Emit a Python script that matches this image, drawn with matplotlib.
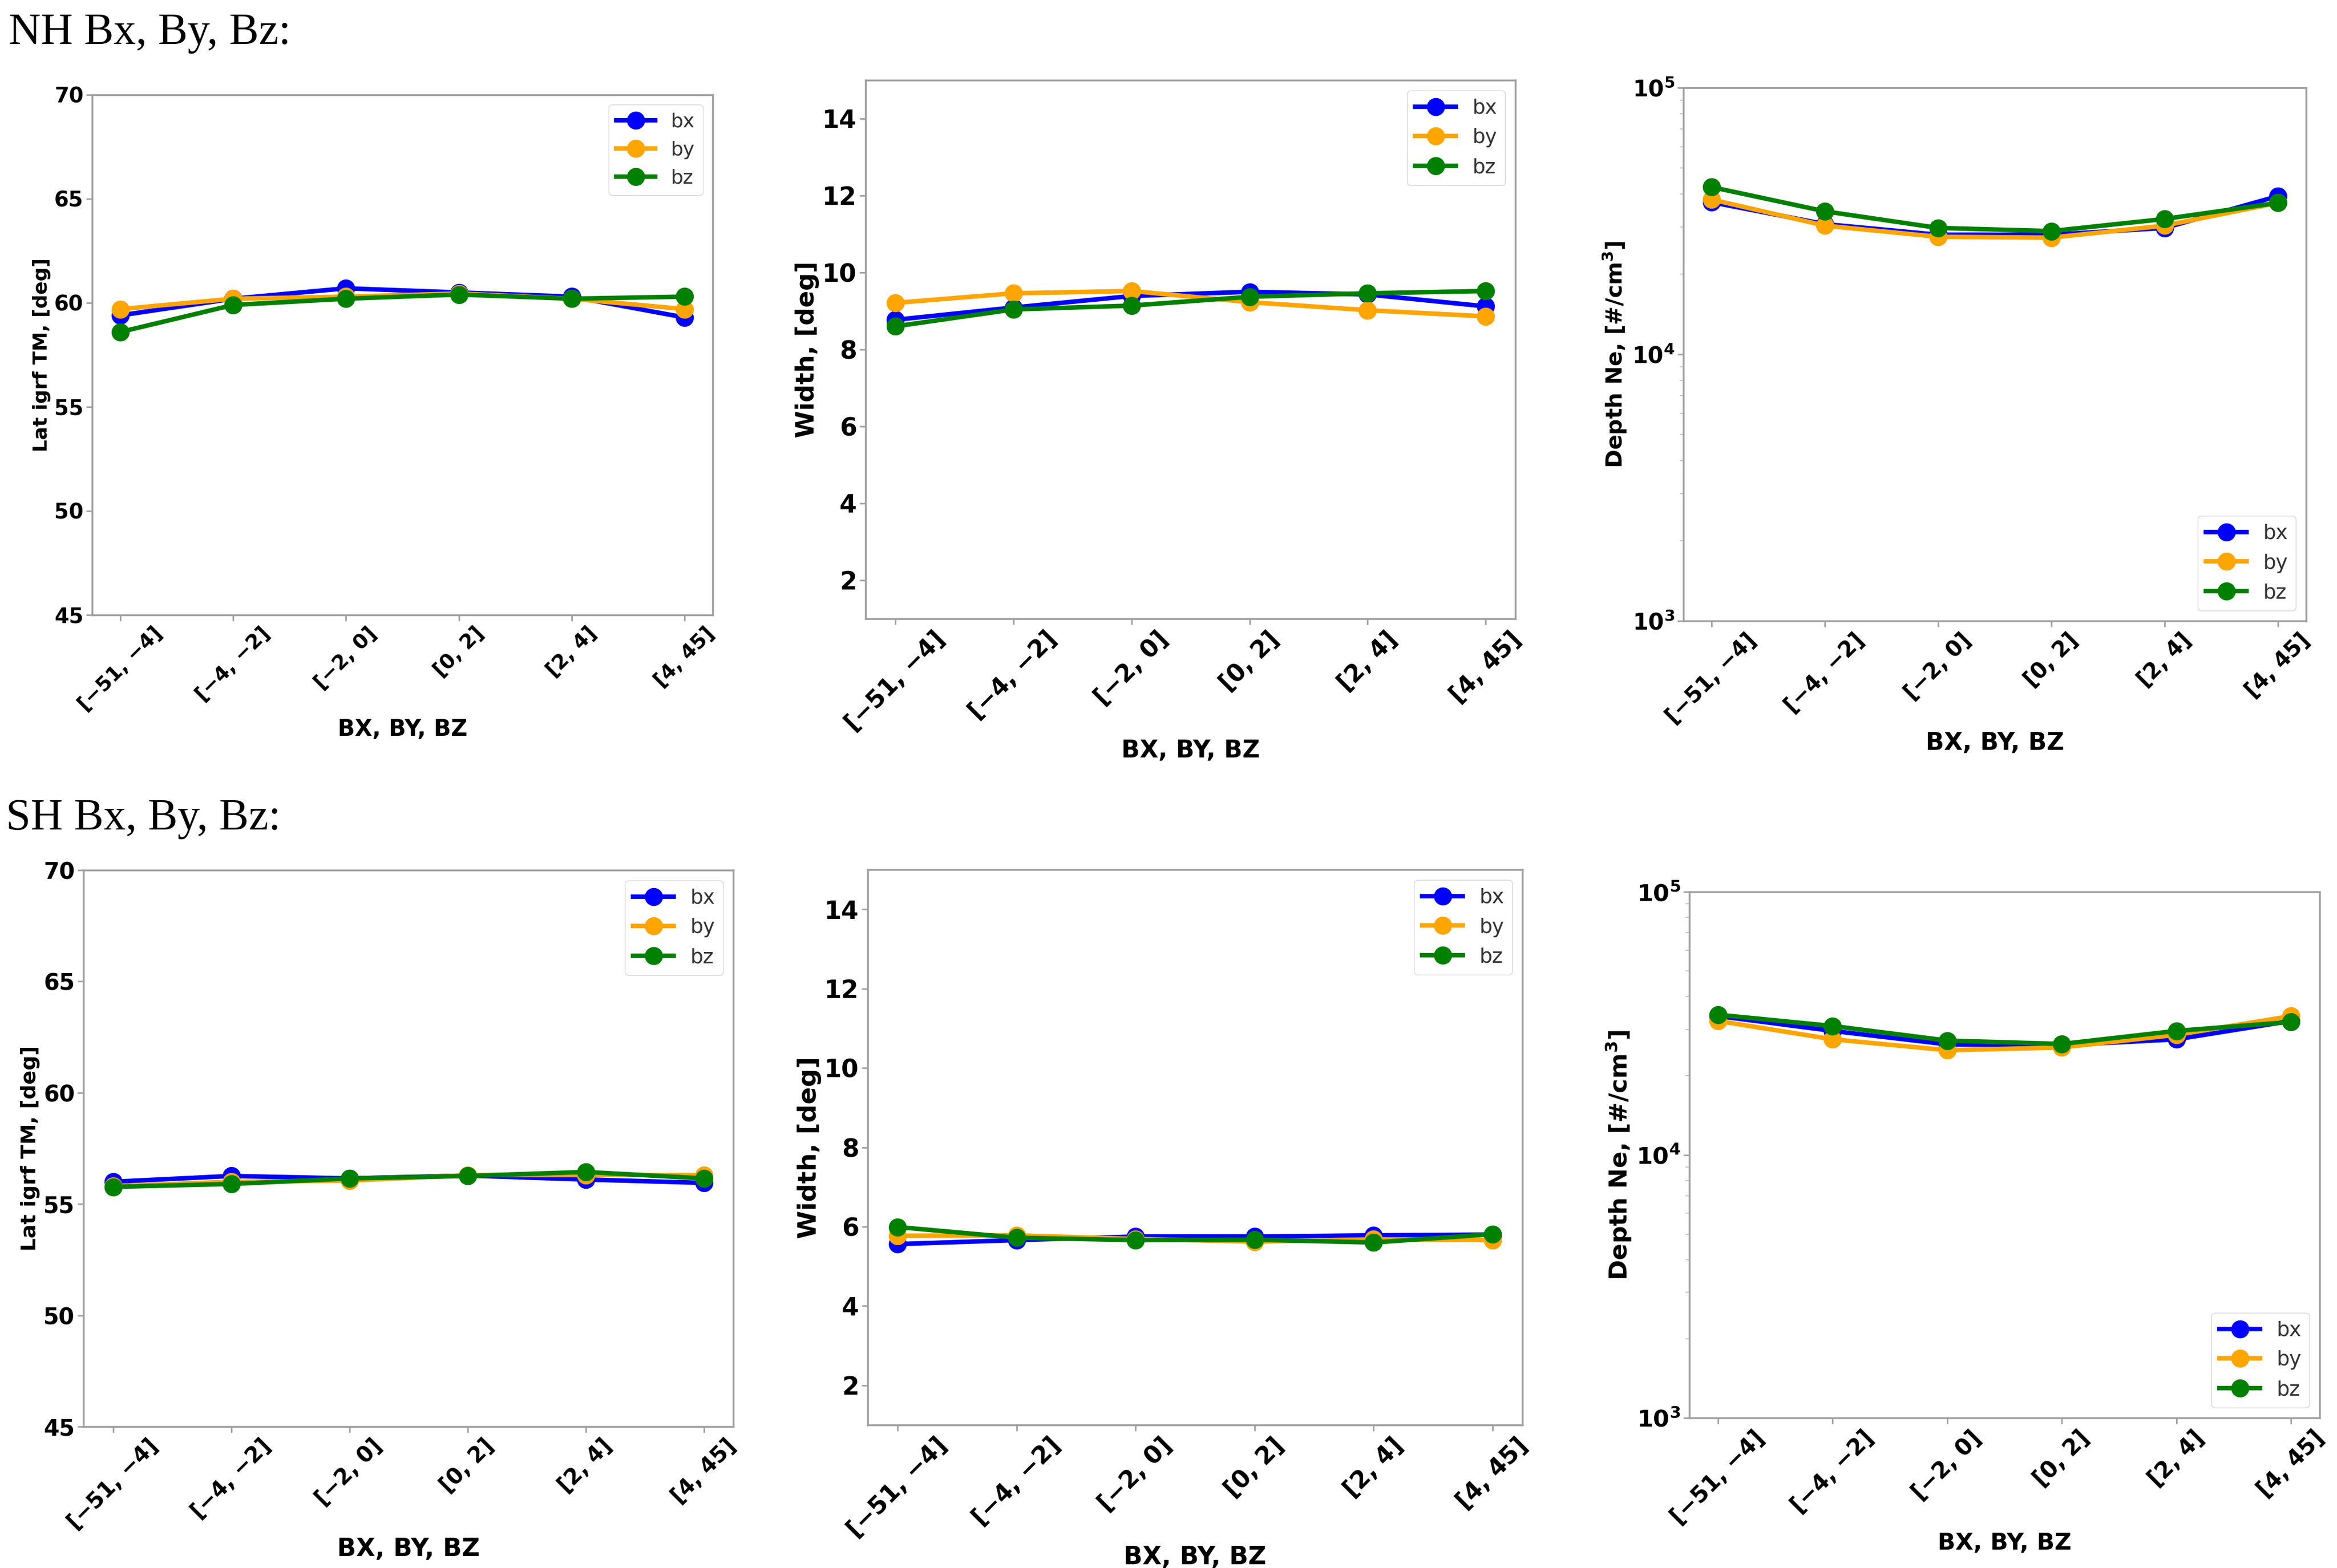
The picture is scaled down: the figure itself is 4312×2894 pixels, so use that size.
import matplotlib
matplotlib.use("Agg")
import matplotlib.pyplot as plt

# intervaly na ose x
intervaly = ["[\u221251, \u22124]", "[\u22124, \u22122]", "[\u22122, 0]", "[0, 2]", "[2, 4]", "[4, 45]"]

# NH - severni polokoule
nh_lat_bx = [59.4, 60.2, 60.7, 60.5, 60.3, 59.3]
nh_lat_by = [59.7, 60.2, 60.3, 60.45, 60.2, 59.7]
nh_lat_bz = [58.6, 59.9, 60.2, 60.4, 60.2, 60.3]

nh_width_bx = [8.77, 9.09, 9.39, 9.5, 9.43, 9.12]
nh_width_by = [9.21, 9.46, 9.52, 9.23, 9.02, 8.86]
nh_width_bz = [8.6, 9.04, 9.14, 9.37, 9.46, 9.52]

nh_depth_bx = [37200, 30800, 28100, 28100, 29800, 39200]
nh_depth_by = [38100, 30400, 27600, 27400, 30400, 37000]
nh_depth_bz = [42400, 34400, 29800, 29000, 32200, 37000]

# SH - jizni polokoule
sh_lat_bx = [56.0, 56.26, 56.15, 56.28, 56.1, 55.95]
sh_lat_by = [55.8, 56.0, 56.05, 56.3, 56.3, 56.3]
sh_lat_bz = [55.77, 55.9, 56.15, 56.26, 56.44, 56.15]

sh_width_bx = [5.56, 5.66, 5.75, 5.75, 5.78, 5.8]
sh_width_by = [5.77, 5.78, 5.69, 5.62, 5.68, 5.66]
sh_width_bz = [5.99, 5.72, 5.66, 5.67, 5.6, 5.81]

sh_depth_bx = [33700, 29600, 26300, 26100, 27500, 32300]
sh_depth_by = [32300, 27500, 25000, 25600, 28600, 33700]
sh_depth_bz = [34100, 30900, 27200, 26400, 29600, 32000]

W, H = 4312, 2894
fig = plt.figure(figsize=(W / 100, H / 100), dpi=100)


def pozice(x0, y0, x1, y1):
    # pixely -> souradnice figury
    return [x0 / W, 1 - y1 / H, (x1 - x0) / W, (y1 - y0) / H]


def panel(rect, bx, by, bz, ylabel, typ, loc, fs_tick, fs_ylab, fs_xlab, fs_leg):
    ax = fig.add_axes(pozice(*rect))
    x = list(range(len(intervaly)))
    for data, barva, jmeno in [(bx, "blue", "bx"), (by, "orange", "by"), (bz, "green", "bz")]:
        ax.plot(x, data, color=barva, marker="o", markersize=23, linewidth=6, label=jmeno)

    if typ == "lat":
        ax.set_ylim(45, 70)
        ax.set_yticks([45, 50, 55, 60, 65, 70])
    elif typ == "width":
        ax.set_ylim(1, 15)
        ax.set_yticks([2, 4, 6, 8, 10, 12, 14])
    else:
        ax.set_yscale("log")
        ax.set_ylim(1e3, 1e5)
        ax.set_yticks([1e3, 1e4, 1e5])
        ax.set_yticklabels([r"$\mathbf{10^{3}}$", r"$\mathbf{10^{4}}$", r"$\mathbf{10^{5}}$"])

    ax.set_xticks(x)
    ax.set_xticklabels(intervaly, rotation=45, fontweight="bold", fontsize=fs_tick - 1)
    for t in ax.get_yticklabels():
        t.set_fontweight("bold")
        t.set_fontsize(fs_tick)
    ax.set_xlabel("BX, BY, BZ", fontweight="bold", fontsize=fs_xlab)
    ax.set_ylabel(ylabel, fontweight="bold", fontsize=fs_ylab)

    for s in ax.spines.values():
        s.set_color("#a0a0a0")
        s.set_linewidth(2.5)
    ax.tick_params(colors="#a0a0a0", labelcolor="black", length=8, width=2)
    ax.tick_params(which="minor", colors="#c8c8c8", length=5, width=1.5)

    leg = ax.legend(loc=loc, fontsize=fs_leg, handlelength=2.0, borderpad=0.4)
    for t in leg.get_texts():
        t.set_color("#333333")
    return ax


hloubka = "Depth Ne, [#/cm$^{\\mathbf{3}}$]"

# horni rada - NH
panel((170, 175, 1315, 1135), nh_lat_bx, nh_lat_by, nh_lat_bz,
      "Lat igrf TM, [deg]", "lat", "upper right", 28, 26, 30, 26)
panel((1597, 148, 2796, 1142), nh_width_bx, nh_width_by, nh_width_bz,
      "Width, [deg]", "width", "upper right", 33, 33, 32, 27)
panel((3106, 162, 4255, 1146), nh_depth_bx, nh_depth_by, nh_depth_bz,
      hloubka, "depth", "lower right", 30, 29.5, 32, 27)

# dolni rada - SH
panel((154, 1606, 1353, 2633), sh_lat_bx, sh_lat_by, sh_lat_bz,
      "Lat igrf TM, [deg]", "lat", "upper right", 30, 27.5, 33, 27)
panel((1601, 1605, 2809, 2630), sh_width_bx, sh_width_by, sh_width_bz,
      "Width, [deg]", "width", "upper right", 33, 34, 33, 27)
panel((3117, 1646, 4280, 2617), sh_depth_bx, sh_depth_by, sh_depth_bz,
      hloubka, "depth", "lower right", 31, 32.5, 31, 27)

fig.text(16 / W, 1 - 81 / H, "NH Bx, By, Bz:", family="Liberation Serif", fontsize=59, va="baseline")
fig.text(11 / W, 1 - 1531 / H, "SH Bx, By, Bz:", family="Liberation Serif", fontsize=59, va="baseline")

fig.savefig("out.png", dpi=100, facecolor="white")
